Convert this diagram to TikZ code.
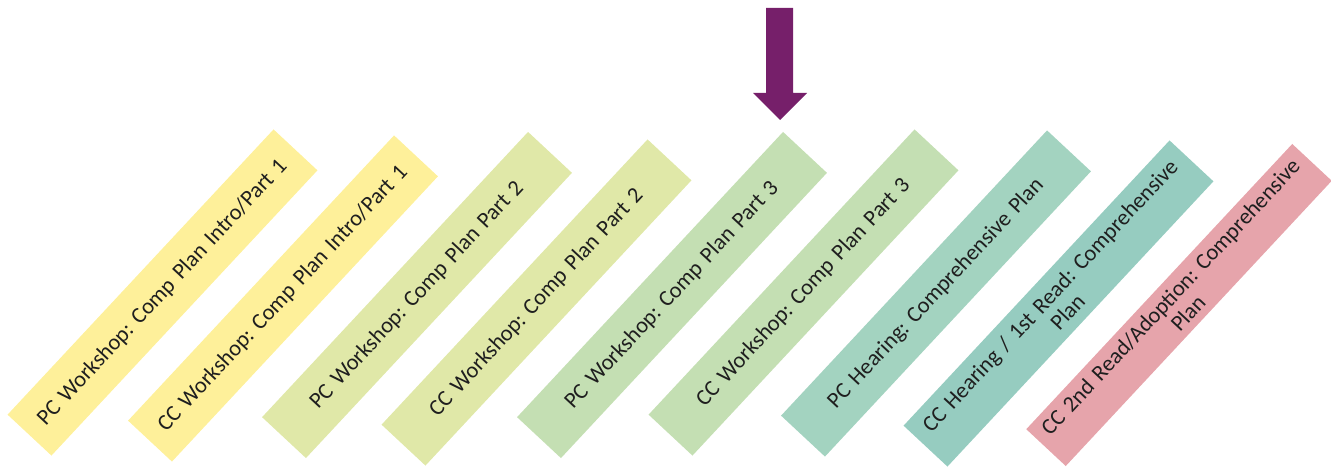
\documentclass[tikz,border=0pt]{standalone}
\usepackage{fontspec}
\setmainfont{Carlito}
\frenchspacing
\definecolor{cyel}{HTML}{FEF09A}
\definecolor{cyg}{HTML}{E0E8A8}
\definecolor{cgr}{HTML}{C4DFB3}
\definecolor{ctl}{HTML}{A3D3C0}
\definecolor{ctd}{HTML}{96CCC0}
\definecolor{cpk}{HTML}{E6A4AB}
\definecolor{cpurple}{HTML}{761F6A}
\tikzset{
  stage/.style={rectangle, rotate=47, minimum width=390pt, minimum height=60pt,
    inner sep=0pt, text width=388pt, align=center, text=black!88,
    font=\fontsize{22.5}{24}\selectfont},
}
\begin{document}
\begin{tikzpicture}[x=1pt,y=1pt]
\useasboundingbox (0,0) rectangle (1331,466);
\node[stage, fill=cyel] (s1) at (162.5,173.5) {PC Workshop: Comp Plan Intro/Part 1};
\node[stage, fill=cyel] (s2) at (283,167.5) {CC Workshop: Comp Plan Intro/Part 1};
\node[stage, fill=cyg] (s3) at (417,171) {PC Workshop: Comp Plan Part 2};
\node[stage, fill=cyg] (s4) at (536.5,163.5) {CC Workshop: Comp Plan Part 2};
\node[stage, fill=cgr] (s5) at (672,171) {PC Workshop: Comp Plan Part 3};
\node[stage, fill=cgr] (s6) at (803.5,173.5) {CC Workshop: Comp Plan Part 3};
\node[stage, fill=ctl] (s7) at (936,172.5) {PC Hearing: Comprehensive Plan};
\node[stage, fill=ctd] (s8) at (1058.5,162.5) {CC Hearing / 1st Read: Comprehensive\\Plan};
\node[stage, fill=cpk, minimum height=54pt] (s9) at (1179,161) {CC 2nd Read/Adoption: Comprehensive\\Plan};
\fill[cpurple] (766,458) -- (793,458) -- (793,373) -- (807,373) -- (780,346) -- (753,373) -- (766,373) -- cycle;
\end{tikzpicture}
\end{document}
